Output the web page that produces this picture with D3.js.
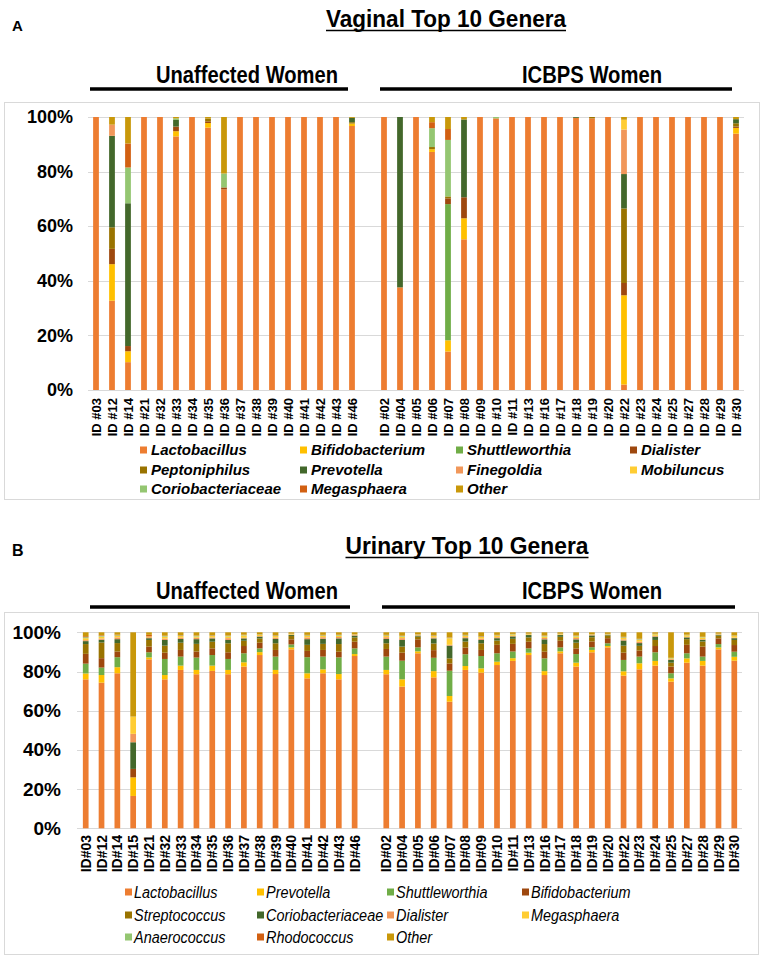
<!DOCTYPE html>
<html><head><meta charset="utf-8">
<script src="https://cdn.jsdelivr.net/npm/d3@7"></script>
<style>body{margin:0;background:#fff}svg{display:block}</style>
</head><body>
<svg id="chart" width="765" height="958"></svg>
<script>
// ---------- Panel A: Vaginal ----------
const vagUnaffected = ["ID #03","ID #12","ID #14","ID #21","ID #32","ID #33","ID #34","ID #35","ID #36","ID #37","ID #38","ID #39","ID #40","ID #41","ID #42","ID #43","ID #46"];
const vagICBPS = ["ID #02","ID #04","ID #05","ID #06","ID #07","ID #08","ID #09","ID #10","ID #11","ID #13","ID #16","ID #17","ID #18","ID #19","ID #20","ID #22","ID #23","ID #24","ID #25","ID #27","ID #28","ID #29","ID #30"];
const vagGenera = ["Lactobacillus","Bifidobacterium","Shuttleworthia","Dialister","Peptoniphilus","Prevotella","Finegoldia","Mobiluncus","Coriobacteriaceae","Megasphaera","Other"];
// values per genus (17 unaffected, then 23 ICBPS), percent
const vagLactobacillus   = [100,32.7,10.2,100,100,92.9,100,96.1,73.5,100,100,100,100,100,100,100,96.7, 100,37.6,100,87.2,14.1,55.2,100,99.5,100,100,100,100,99.7,99.5,100,2.0,100,100,100,100,100,100,93.9];
const vagBifidobacterium = [0,13.4,4.0,0,0,1.9,0,1.7,0,0,0,0,0,0,0,0,0.9, 0,0,0,1.0,4.1,7.7,0,0,0,0,0,0,0,0,0,32.7,0,0,0,0,0,0,2.1];
const vagShuttleworthia  = [0,0,0,0,0,0,0,0,0,0,0,0,0,0,0,0,0, 0,0,0,0,49.9,0,0,0,0,0,0,0,0,0,0,0,0,0,0,0,0,0,0];
const vagDialister       = [0,5.6,1.9,0,0,1.7,0,0.6,0.7,0,0,0,0,0,0,0,0, 0,0,0,0,2.1,7.7,0,0,0,0,0,0,0,0,0,4.5,0,0,0,0,0,0,0.5];
const vagPeptoniphilus   = [0,7.9,0,0,0,0,0,1.0,0,0,0,0,0,0,0,0,0.5, 0,0,0,0.8,0.7,0,0,0,0,0,0,0,0,0.5,0,27.3,0,0,0,0,0,0,1.2];
const vagPrevotella      = [0,33.5,52.3,0,0,2.4,0,0,0,0,0,0,0,0,0,0,1.6, 0,62.4,0,0,0,28.5,0,0,0,0,0,0,0.3,0,0,12.6,0,0,0,0,0,0,1.5];
const vagFinegoldia      = [0,4.1,0,0,0,0,0,0,0,0,0,0,0,0,0,0,0, 0,0,0,0,0,0,0,0,0,0,0,0,0,0,0,16.3,0,0,0,0,0,0,0];
const vagMobiluncus      = [0,0,0,0,0,0,0,0,0,0,0,0,0,0,0,0,0, 0,0,0,0,0,0,0,0,0,0,0,0,0,0,0,3.6,0,0,0,0,0,0,0];
const vagCoriobacteriaceae=[0,0,13.1,0,0,0.6,0,0,5.1,0,0,0,0,0,0,0,0, 0,0,0,6.9,20.7,0,0,0.5,0,0,0,0,0,0,0,0,0,0,0,0,0,0,0];
const vagMegasphaera     = [0,0,8.8,0,0,0,0,0,0,0,0,0,0,0,0,0,0, 0,0,0,2.2,4.0,0,0,0,0,0,0,0,0,0,0,0,0,0,0,0,0,0,0];
const vagOther           = [0,2.8,9.7,0,0,0.5,0,0.6,20.7,0,0,0,0,0,0,0,0.3, 0,0,0,1.9,4.4,0.9,0,0,0,0,0,0,0,0,0,1.0,0,0,0,0,0,0,0.8];

// ---------- Panel B: Urinary ----------
const urUnaffected = ["ID#03","ID#12","ID#14","ID#15","ID#21","ID#32","ID#33","ID#34","ID#35","ID#36","ID#37","ID#38","ID#39","ID#40","ID#41","ID#42","ID#43","ID#46"];
const urICBPS = ["ID#02","ID#04","ID#05","ID#06","ID#07","ID#08","ID#09","ID#10","ID#11","ID#13","ID#16","ID#17","ID#18","ID#19","ID#20","ID#22","ID#23","ID#24","ID#25","ID#27","ID#28","ID#29","ID#30"];
const urGenera = ["Lactobacillus","Prevotella","Shuttleworthia","Bifidobacterium","Streptococcus","Coriobacteriaceae","Dialister","Megasphaera","Anaerococcus","Rhodococcus","Other"];
// values per genus (18 unaffected, then 23 ICBPS), percent
const urLactobacillus    = [76,74.3,79.1,16.5,86.2,76.0,80.8,78.6,80.3,78.6,82.5,88.4,78.7,91.3,76.5,79.1,76.0,87.9, 78.6,72.3,89.3,77.0,64.6,80.8,79.4,83.3,85.4,88.4,78.2,89.3,82.5,89.8,92.3,77.9,81.1,83.0,74.8,84.5,83.0,91.3,85.5];
const urPrevotella       = [3,3.9,3.1,9.5,1.0,2.2,2.2,2.2,2.7,2.2,2.2,1.5,2.1,1.0,2.6,2.0,2.7,1.0, 2.2,3.7,1.0,3.2,2.9,2.0,2.2,1.7,1.4,1.2,2.0,1.0,2.0,1.2,0.7,2.2,3.1,2.4,1.7,2.2,2.4,1.0,2.0];
const urShuttleworthia   = [5,3.8,5.1,0,2.6,8.2,4.6,6.3,5.4,5.6,4.6,1.9,6.8,1.5,8.2,6.5,8.5,2.9, 6.8,9.5,2.0,6.8,12.9,6.0,6.3,4.3,3.4,2.2,6.5,2.0,4.4,1.4,1.4,5.8,3.4,4.4,2.6,2.6,2.2,1.7,2.6];
const urBifidobacterium  = [5,4.8,2.9,4.3,2.9,3.2,3.4,3.1,3.4,3.4,3.7,2.9,3.4,2.6,3.2,3.4,2.9,3.4, 3.9,4.1,4.1,3.9,3.7,3.4,3.1,4.3,3.9,3.4,3.4,3.4,2.9,2.9,2.6,3.7,3.1,3.2,3.4,4.3,5.1,2.9,3.4];
const urStreptococcus    = [5,8.0,4.3,0,3.4,3.6,3.7,3.9,3.4,4.6,2.7,2.2,3.4,1.7,3.1,3.1,3.9,2.2, 2.9,3.1,1.4,3.4,2.6,3.1,3.4,2.2,2.6,2.2,3.9,2.0,2.9,2.2,1.4,3.6,2.4,3.1,2.0,2.9,2.6,1.4,2.6];
const urCoriobacteriaceae= [1.5,1.4,2.0,13.6,0.9,2.9,1.9,2.4,1.7,1.7,1.2,0.9,2.2,0.5,2.9,2.6,2.9,0.9, 2.2,3.4,0.5,2.6,6.5,1.7,1.7,1.2,1.2,1.2,2.4,0.9,1.7,0.9,0.3,2.6,1.4,1.7,1.4,0.9,0.9,0.4,0.9];
const urDialister        = [0.5,0.6,0.9,4.3,0.5,0.7,0.7,0.7,0.5,0.9,0.3,0.3,0.7,0.2,0.9,0.8,0.7,0.3, 0.9,0.9,0.2,0.5,0.4,0.5,0.7,0.5,0.3,0.2,0.7,0.2,0.7,0.2,0.1,0.6,0.7,0.4,0.4,0.3,0.3,0.2,0.3];
const urMegasphaera      = [1,1.0,0.8,8.8,0.4,1.0,0.8,0.7,0.7,0.9,1.2,0.6,0.8,0.3,0.8,0.7,0.7,0.3, 0.7,0.8,0.3,0.7,3.4,0.7,0.8,0.8,0.7,0.3,0.8,0.3,0.8,0.3,0.2,0.8,1.0,0.8,0.4,0.8,0.9,0.2,0.8];
const urAnaerococcus     = [0.5,0.4,0.3,0,0,0.3,0.3,0.3,0.3,0.3,0.2,0.2,0.3,0.1,0.3,0.3,0.3,0.1, 0.3,0.3,0.1,0.3,0.2,0.3,0.3,0.2,0.2,0.1,0.3,0.1,0.3,0.1,0.1,0.3,0.3,0.2,0.2,0.2,0.2,0.1,0.2];
const urRhodococcus      = [0.5,0.3,0.3,0,0.8,0.2,0.2,0.2,0.2,0.2,0.2,0.1,0.2,0.1,0.2,0.2,0.2,0.1, 0.2,0.2,0.1,0.2,0.2,0.2,0.2,0.2,0.1,0.1,0.2,0.1,0.2,0.1,0.1,0.2,0.2,0.1,0.1,0.1,0.1,0.1,0.1];
const urOther            = [2,1.5,1.2,43.0,1.3,1.7,1.4,1.6,1.4,1.6,1.2,1.0,1.4,0.7,1.3,1.3,1.2,0.9, 1.3,1.7,1.0,1.4,2.6,1.3,1.9,1.3,0.8,0.7,1.6,0.7,1.6,0.9,0.8,2.3,3.3,0.7,13.0,1.2,2.3,0.7,1.6];

const yTicks = [0,0.2,0.4,0.6,0.8,1];
const palette = ["#ED7D31","#FFC000","#70AD47","#9E480E","#997300","#43682B","#F1975A","#FFCD33","#94C671","#D26012","#C9980A"];

const FA = "'Liberation Sans',Arial,Helvetica,sans-serif";

const svg = d3.select("#chart");

function fitText(sel, width) {
  sel.attr("textLength", width).attr("lengthAdjust", "spacingAndGlyphs");
}

function drawPanel(p) {
  const ids = [...p.unaffected, ...p.icbps];
  const slots = [...p.unaffected, "__gap__", ...p.icbps];
  const x = d3.scaleBand().domain(slots).range(p.xRange).paddingInner(0.64).paddingOuter(0.32);
  const y = d3.scaleLinear().domain([0,1]).range(p.yRange);
  const rows = ids.map((id,i)=>{const o={id}; p.genera.forEach((g,k)=>{o[g]=p.series[k][i];}); return o;});
  const layers = d3.stack().keys(p.genera).offset(d3.stackOffsetExpand)(rows);

  // panel letter, title
  svg.append("text").attr("x",p.letterX).attr("y",p.letterY).text(p.letter)
    .attr("font-family",FA).attr("font-weight","bold").attr("font-size",p.letterSize);
  const t = svg.append("text").attr("x",p.titleX).attr("y",p.titleY).attr("text-anchor","middle").text(p.title)
    .attr("font-family",FA).attr("font-weight","bold").attr("font-size",24);
  fitText(t, p.titleW);
  svg.append("line").attr("x1",p.titleX-p.titleW/2).attr("x2",p.titleX+p.titleW/2).attr("y1",p.titleY+3.5).attr("y2",p.titleY+3.5)
    .attr("stroke","#000").attr("stroke-width",1.6);

  // group headers
  p.groups.forEach(gr=>{
    const s = svg.append("text").attr("x",gr.cx).attr("y",p.groupY).attr("text-anchor","middle").text(gr.name)
      .attr("font-family",FA).attr("font-weight","bold").attr("font-size",24);
    fitText(s, gr.w);
    svg.append("line").attr("x1",gr.x1).attr("x2",gr.x2).attr("y1",p.groupLineY).attr("y2",p.groupLineY)
      .attr("stroke","#000").attr("stroke-width",3.6);
  });

  // chart-area box
  svg.append("rect").attr("x",p.box[0]+0.5).attr("y",p.box[1]+0.5).attr("width",p.box[2]).attr("height",p.box[3])
    .attr("fill","none").attr("stroke","#d9d9d9").attr("stroke-width",1);

  // grid
  svg.append("g").selectAll("line").data(yTicks).join("line")
    .attr("x1",p.gridX[0]).attr("x2",p.gridX[1]).attr("y1",d=>Math.round(y(d))+0.5).attr("y2",d=>Math.round(y(d))+0.5)
    .attr("stroke","#d9d9d9").attr("stroke-width",1);

  // bars
  svg.append("g").selectAll("g").data(layers).join("g").attr("fill",(d,i)=>p.colors[i])
    .selectAll("rect").data(d=>d).join("rect")
    .attr("x",d=>x(d.data.id)).attr("width",x.bandwidth())
    .attr("y",d=>y(d[1])).attr("height",d=>Math.max(0,y(d[0])-y(d[1])));

  // y axis
  const ya = svg.append("g").attr("transform",`translate(${p.yLabelX},0)`)
    .call(d3.axisLeft(y).tickValues(yTicks).tickFormat(d3.format(".0%")).tickSize(0).tickPadding(0));
  ya.select(".domain").remove();
  ya.selectAll("text").attr("font-family",FA).attr("font-weight","bold").attr("font-size",p.yFont).attr("fill","#000");

  // x axis
  const xa = svg.append("g").attr("transform",`translate(0,${p.xLabelY})`)
    .call(d3.axisBottom(x).tickValues(ids).tickSize(0));
  xa.select(".domain").remove();
  xa.selectAll("text").attr("transform","rotate(-90)").attr("x",0).attr("y",0).attr("dy","0.36em")
    .attr("text-anchor","end").attr("font-family",FA).attr("font-weight","bold").attr("font-size",p.xFont).attr("fill","#000");

  // legend
  const lg = svg.append("g");
  p.genera.forEach((g,i)=>{
    const r = Math.floor(i/4), c = i%4;
    const lx = p.legendCols[c], ly = p.legendRows[r];
    lg.append("rect").attr("x",lx).attr("y",ly-3.5).attr("width",7).attr("height",7).attr("fill",p.colors[i]);
    lg.append("text").attr("transform",`translate(${lx+p.legendGap},${ly}) scale(${p.legendScaleX},1)`)
      .attr("dy","0.35em").text(g)
      .attr("font-family",FA).attr("font-weight",p.legendWeight).attr("font-style","italic")
      .attr("font-size",p.legendSize).attr("fill","#000");
  });
}

drawPanel({
  letter:"A", letterX:12, letterY:31, letterSize:15,
  title:"Vaginal Top 10 Genera", titleX:446, titleY:27, titleW:240,
  groups:[{name:"Unaffected Women",cx:247,w:182,x1:90,x2:348},{name:"ICBPS Women",cx:592,w:140,x1:380,x2:732}],
  groupY:83, groupLineY:89,
  box:[4,102,755,397],
  unaffected:vagUnaffected, icbps:vagICBPS, genera:vagGenera,
  series:[vagLactobacillus,vagBifidobacterium,vagShuttleworthia,vagDialister,vagPeptoniphilus,vagPrevotella,vagFinegoldia,vagMobiluncus,vagCoriobacteriaceae,vagMegasphaera,vagOther],
  colors:palette,
  xRange:[88,744], yRange:[390,117], gridX:[88,744],
  yLabelX:73, yFont:18, xLabelY:398, xFont:13,
  legendCols:[140,300,456,630], legendRows:[450,470,489], legendGap:11,
  legendWeight:"bold", legendSize:15, legendScaleX:1
});

drawPanel({
  letter:"B", letterX:12, letterY:556, letterSize:16,
  title:"Urinary Top 10 Genera", titleX:467, titleY:554, titleW:243,
  groups:[{name:"Unaffected Women",cx:247,w:182,x1:90,x2:350},{name:"ICBPS Women",cx:592,w:140,x1:382,x2:735}],
  groupY:599, groupLineY:607,
  box:[4,612,754,342],
  unaffected:urUnaffected, icbps:urICBPS, genera:urGenera,
  series:[urLactobacillus,urPrevotella,urShuttleworthia,urBifidobacterium,urStreptococcus,urCoriobacteriaceae,urDialister,urMegasphaera,urAnaerococcus,urRhodococcus,urOther],
  colors:palette,
  xRange:[77.8,742.2], yRange:[828.3,632.3], gridX:[77,742],
  yLabelX:61, yFont:19, xLabelY:835, xFont:14,
  legendCols:[125,257,387,522], legendRows:[892,915,937], legendGap:9,
  legendWeight:"normal", legendSize:17, legendScaleX:0.85
});
</script>
</body></html>
